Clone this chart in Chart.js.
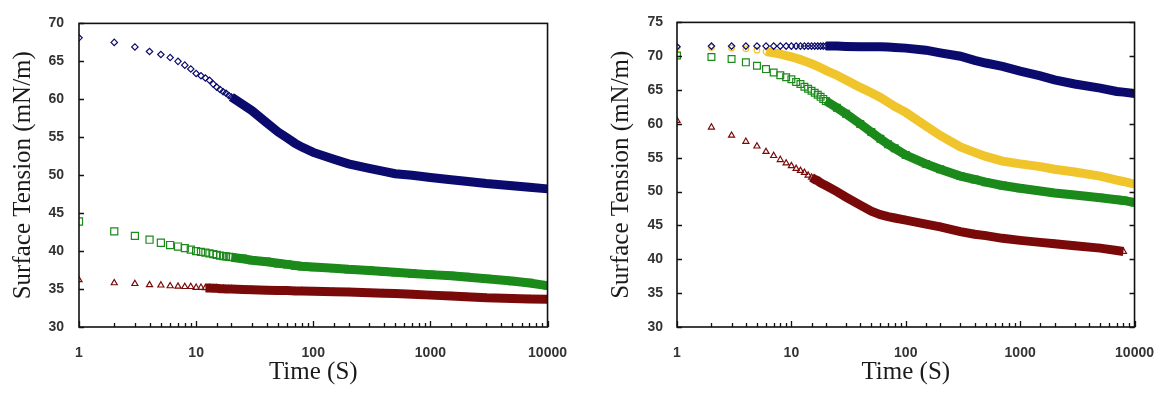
<!DOCTYPE html>
<html>
<head>
<meta charset="utf-8">
<title>Surface Tension vs Time</title>
<script src="https://cdn.jsdelivr.net/npm/chart.js@4.4.1/dist/chart.umd.min.js"></script>
<style>
  body { margin: 0; background: #fff; }
  #wrap { position: relative; width: 1172px; height: 398px; }
  #left-chart { position: absolute; left: 0; top: 0; }
  #right-chart { position: absolute; left: 585px; top: 0; }
</style>
</head>
<body>
<div id="wrap">
  <canvas id="left-chart" width="585" height="398"></canvas>
  <canvas id="right-chart" width="587" height="398"></canvas>
</div>
<script>
// Time points (s)
const tLeft = [1, 2, 3, 4, 5, 6, 7, 8, 9, 10, 11, 12, 13, 14, 15, 16, 17, 18, 19, 20,
    25, 30, 40, 50, 60, 70, 80, 100, 150, 200, 300, 400, 500, 700, 1000, 1500, 2000, 3000, 5000, 7000, 10000];
const tRight = [1, 2, 3, 4, 5, 6, 7, 8, 9, 10, 11, 12, 13, 14, 15, 16, 17, 18, 19, 20,
    25, 30, 40, 50, 60, 70, 80, 100, 150, 200, 300, 400, 500, 700, 1000, 1500, 2000, 3000, 5000, 7000, 8000, 10000];

// Surface tension (mN/m) - left panel
const blueLeft = [68.1, 67.5, 66.9, 66.3, 65.9, 65.5, 65.0, 64.5, 64.0, 63.4, 63.1, 62.8, 62.5, 62.0, 61.6, 61.3, 61.0, 60.8, 60.5, 60.3,
    59.3, 58.5, 56.9, 55.7, 54.9, 54.2, 53.7, 53.0, 52.1, 51.5, 50.9, 50.5, 50.2, 50.0, 49.7, 49.4, 49.2, 48.9, 48.6, 48.4, 48.2];
const greenLeft = [43.9, 42.6, 42.0, 41.5, 41.1, 40.8, 40.6, 40.4, 40.2, 40.0, 39.9, 39.8, 39.7, 39.6, 39.5, 39.4, 39.35, 39.3, 39.25, 39.2,
    39.0, 38.8, 38.6, 38.4, 38.25, 38.1, 38.0, 37.9, 37.75, 37.6, 37.45, 37.3, 37.2, 37.05, 36.9, 36.75, 36.6, 36.35, 36.05, 35.8, 35.45];
const redLeft = [36.2, 35.8, 35.7, 35.55, 35.5, 35.4, 35.35, 35.3, 35.3, 35.2, 35.2, 35.15, 35.15, 35.1, 35.1, 35.05, 35.05, 35.0, 35.0, 35.0,
    34.95, 34.9, 34.85, 34.8, 34.8, 34.75, 34.75, 34.7, 34.65, 34.6, 34.5, 34.45, 34.4, 34.3, 34.2, 34.1, 34.0, 33.85, 33.75, 33.7, 33.65];

// Surface tension (mN/m) - right panel
const blueRight = [71.4, 71.5, 71.5, 71.5, 71.5, 71.5, 71.5, 71.5, 71.5, 71.5, 71.5, 71.5, 71.5, 71.5, 71.5, 71.5, 71.5, 71.5, 71.5, 71.5,
    71.5, 71.45, 71.4, 71.4, 71.4, 71.35, 71.3, 71.2, 70.9, 70.5, 70.0, 69.4, 69.0, 68.5, 67.8, 67.1, 66.5, 65.9, 65.3, 64.8, 64.7, 64.5];
const yellowRight = [71.3, 71.3, 71.2, 71.1, 70.9, 70.7, 70.5, 70.3, 70.1, 69.9, 69.7, 69.5, 69.3, 69.1, 68.9, 68.7, 68.5, 68.3, 68.1, 67.9,
    67.2, 66.5, 65.4, 64.6, 63.9, 63.2, 62.6, 61.7, 59.7, 58.3, 56.6, 55.8, 55.2, 54.5, 54.1, 53.7, 53.3, 52.9, 52.3, 51.7, 51.5, 51.1];
const greenRight = [70.1, 69.9, 69.6, 69.1, 68.6, 68.1, 67.6, 67.2, 66.9, 66.6, 66.2, 65.9, 65.5, 65.2, 64.9, 64.6, 64.3, 64.0, 63.7, 63.4,
    62.4, 61.5, 60.0, 58.8, 57.8, 57.0, 56.4, 55.4, 54.1, 53.3, 52.3, 51.8, 51.4, 50.9, 50.5, 50.1, 49.8, 49.5, 49.1, 48.8, 48.7, 48.4];
const redRight = [60.5, 59.5, 58.3, 57.4, 56.7, 55.9, 55.3, 54.7, 54.2, 53.8, 53.4, 53.1, 52.8, 52.4, 52.1, 51.8, 51.6, 51.3, 51.1, 50.9,
    50.0, 49.2, 48.0, 47.1, 46.6, 46.3, 46.1, 45.8, 45.2, 44.8, 44.1, 43.7, 43.5, 43.1, 42.8, 42.5, 42.3, 42.0, 41.65, 41.3, 41.15, null];

// Axis labels
const xDecades = [1, 10, 100, 1000, 10000];
const yTitle = 'Surface Tension (mN/m)';
const xTitle = 'Time (S)';

const NAVY = '#0b0b6e';
const GREEN = '#1b8a1b';
const MAROON = '#7a0a0a';
const GOLD = '#f0c52c';

const isDecade = v => xDecades.some(d => Math.abs(v - d) < 1e-6);

// markers at early times, a thick band once the points pile up
function series(times, vals, color, style, radius, bandFrom) {
    return {
        data: times.map((t, i) => ({ x: t, y: vals[i] })),
        borderColor: color,
        borderWidth: 9,
        borderCapStyle: 'butt',
        segment: {
            borderColor: c => c.p0.parsed.x >= bandFrom ? color : 'transparent'
        },
        pointStyle: style,
        pointRadius: radius,
        pointHoverRadius: radius,
        pointBorderWidth: 1.2,
        pointBorderColor: color,
        pointBackgroundColor: 'transparent',
        tension: 0
    };
}

// box around the plot plus tick marks pointing inwards
const innerTicks = {
    id: 'innerTicks',
    afterDraw(chart, args, opts) {
        const { ctx, chartArea: a, scales: { x, y } } = chart;
        ctx.save();
        ctx.strokeStyle = '#111';
        ctx.lineWidth = 1.6;
        ctx.strokeRect(a.left, a.top, a.right - a.left, a.bottom - a.top);
        ctx.lineWidth = 1.3;
        ctx.beginPath();
        x.ticks.forEach(t => {
            const px = Math.round(x.getPixelForValue(t.value)) + 0.5;
            const len = isDecade(t.value) ? 6 : 4;
            ctx.moveTo(px, a.bottom);
            ctx.lineTo(px, a.bottom - len);
        });
        y.ticks.forEach(t => {
            const py = Math.round(y.getPixelForValue(t.value)) + 0.5;
            ctx.moveTo(a.left, py);
            ctx.lineTo(a.left + 5, py);
            if (opts.right) {
                ctx.moveTo(a.right, py);
                ctx.lineTo(a.right - 5, py);
            }
        });
        ctx.stroke();
        ctx.restore();
    }
};

function buildOptions(p) {
    return {
        responsive: false,
        animation: false,
        layout: { padding: { top: p.top, right: p.right, left: 0, bottom: 0 } },
        plugins: {
            legend: { display: false },
            tooltip: { enabled: false },
            innerTicks: { right: p.rightTicks }
        },
        scales: {
            x: {
                type: 'logarithmic',
                min: 1,
                max: 10000,
                afterFit: s => { s.height = 71; },
                grid: { display: false, drawTicks: false },
                border: { display: false },
                ticks: {
                    autoSkip: false,
                    maxRotation: 0,
                    padding: 18,
                    color: '#333',
                    font: { family: 'Liberation Sans', size: 14, weight: 'bold' },
                    callback: v => isDecade(v) ? String(Math.round(v)) : ''
                },
                title: {
                    display: true,
                    text: xTitle,
                    color: '#1a1a1a',
                    font: { family: 'Liberation Serif', size: 25 },
                    padding: { top: 0, bottom: 11 }
                }
            },
            y: {
                min: 30,
                max: p.yMax,
                afterFit: s => { s.width = p.yWidth; },
                grid: { display: false, drawTicks: false },
                border: { display: false },
                ticks: {
                    stepSize: 5,
                    padding: p.tickPad,
                    color: '#333',
                    font: { family: 'Liberation Sans', size: 14, weight: 'bold' }
                },
                title: {
                    display: true,
                    text: yTitle,
                    color: '#1a1a1a',
                    font: { family: 'Liberation Serif', size: 25 },
                    padding: { top: p.titlePad, bottom: 0 }
                }
            }
        }
    };
}

new Chart(document.getElementById('left-chart'), {
    type: 'line',
    data: {
        datasets: [
            series(tLeft, blueLeft, NAVY, 'rectRot', 3.2, 20),
            series(tLeft, greenLeft, GREEN, 'rect', 5, 20),
            series(tLeft, redLeft, MAROON, 'triangle', 3.5, 12)
        ]
    },
    options: buildOptions({ top: 19, right: 34, yWidth: 79, yMax: 70, tickPad: 15, titlePad: 8, rightTicks: false }),
    plugins: [innerTicks]
});

new Chart(document.getElementById('right-chart'), {
    type: 'line',
    data: {
        datasets: [
            series(tRight, blueRight, NAVY, 'rectRot', 3.2, 20),
            series(tRight, yellowRight, GOLD, 'circle', 2.8, 6),
            series(tRight, greenRight, GREEN, 'rect', 4.8, 20),
            series(tRight, redRight, MAROON, 'triangle', 3.5, 15)
        ]
    },
    options: buildOptions({ top: 17, right: 24, yWidth: 92, yMax: 75, tickPad: 14, titlePad: 21, rightTicks: true }),
    plugins: [innerTicks]
});
</script>
</body>
</html>
